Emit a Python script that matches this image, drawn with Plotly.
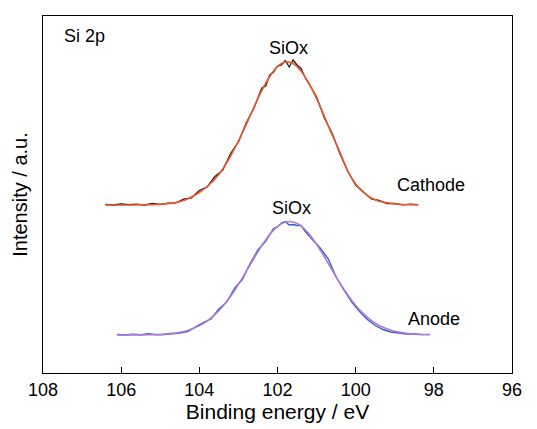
import plotly.graph_objects as go

# ---------------- data ----------------
# Cathode, measured (black) - binding energy / intensity (a.u.)
cath_x = [106.4, 106.2, 106.0, 105.8, 105.6, 105.4, 105.2, 105.0, 104.8, 104.6,
          104.4, 104.2, 104.0, 103.8, 103.6, 103.4, 103.2, 103.0, 102.8, 102.6,
          102.4, 102.3, 102.2, 102.1, 102.0, 101.9, 101.8, 101.7, 101.6, 101.5,
          101.4, 101.3, 101.2, 101.0, 100.8, 100.6, 100.4, 100.2, 100.0, 99.8,
          99.6, 99.4, 99.2, 99.0, 98.8, 98.6, 98.4]
cath_y = [168.5, 168.0, 169.0, 168.3, 168.8, 168.0, 169.5, 168.5, 169.8, 170.2,
          173.8, 175.2, 182.5, 186.0, 196.5, 203.0, 219.5, 231.0, 250.0, 265.0,
          285.0, 287.0, 298.0, 301.0, 307.0, 308.0, 312.5, 306.0, 313.0, 308.0,
          304.5, 296.0, 289.5, 276.0, 255.0, 239.5, 219.0, 201.5, 188.0, 180.5,
          174.0, 172.5, 169.5, 169.6, 168.2, 168.9, 168.3]

# Cathode, fitted envelope (orange)
cath_fit_x = [106.4, 106.2, 106.0, 105.8, 105.6, 105.4, 105.2, 105.0, 104.8, 104.6,
              104.4, 104.2, 104.0, 103.8, 103.6, 103.4, 103.2, 103.0, 102.8, 102.6,
              102.4, 102.2, 102.0, 101.8, 101.6, 101.4, 101.2, 101.0, 100.8, 100.6,
              100.4, 100.2, 100.0, 99.8, 99.6, 99.4, 99.2, 99.0, 98.8, 98.6, 98.4]
cath_fit_y = [168.0, 168.0, 168.0, 168.05, 168.1, 168.2, 168.4, 168.8, 169.4, 170.5,
              172.5, 176.0, 180.5, 186.5, 194.0, 204.0, 217.0, 232.0, 248.5, 266.0,
              282.5, 296.5, 306.5, 311.0, 309.5, 302.0, 290.0, 274.5, 256.5, 238.0,
              220.5, 202.0, 189.0, 180.5, 175.0, 171.8, 170.3, 169.1, 168.5, 168.2, 168.1]

# Anode, measured (blue)
anod_x = [106.1, 105.9, 105.7, 105.5, 105.3, 105.1, 104.9, 104.7, 104.5, 104.3,
          104.1, 103.9, 103.7, 103.5, 103.3, 103.1, 102.9, 102.7, 102.5, 102.3,
          102.1, 102.0, 101.9, 101.8, 101.7, 101.6, 101.5, 101.4, 101.3, 101.1,
          100.9, 100.7, 100.5, 100.3, 100.1, 99.9, 99.7, 99.5, 99.3, 99.1,
          98.9, 98.7, 98.5, 98.3, 98.1]
anod_y = [38.5, 38.0, 38.8, 38.2, 39.2, 38.3, 38.4, 39.0, 40.0, 41.5,
          46.2, 50.5, 54.0, 64.0, 71.0, 84.5, 93.5, 109.5, 123.0, 132.0,
          144.5, 146.0, 150.0, 151.5, 148.0, 148.5, 147.5, 147.8, 142.0, 133.0,
          124.5, 114.0, 96.0, 83.0, 71.0, 61.5, 53.5, 47.5, 43.5, 41.0,
          40.0, 39.0, 39.2, 38.4, 38.6]

# Anode, fitted envelope (purple)
anod_fit_x = [106.1, 105.9, 105.7, 105.5, 105.3, 105.1, 104.9, 104.7, 104.5, 104.3,
              104.1, 103.9, 103.7, 103.5, 103.3, 103.1, 102.9, 102.7, 102.5, 102.3,
              102.1, 101.9, 101.7, 101.5, 101.3, 101.1, 100.9, 100.7, 100.5, 100.3,
              100.1, 99.9, 99.7, 99.5, 99.3, 99.1, 98.9, 98.7, 98.5, 98.3, 98.1]
anod_fit_y = [38.0, 38.0, 38.1, 38.1, 38.2, 38.5, 38.9, 39.6, 40.8, 42.6,
              45.4, 49.4, 54.9, 62.2, 71.4, 82.5, 94.9, 108.2, 121.3, 133.2,
              142.9, 149.2, 151.5, 149.6, 143.6, 134.3, 122.6, 109.5, 96.2, 83.7,
              72.5, 63.1, 55.6, 49.8, 45.7, 42.8, 40.9, 39.7, 38.9, 38.5, 38.3]

x_ticks = [108, 106, 104, 102, 100, 98, 96]

labels = {
    "Si 2p": (107.52, 337),
    "SiOx top": (101.73, 325.5),
    "SiOx bottom": (101.63, 165.5),
    "Cathode": (98.07, 188),
    "Anode": (97.99, 54),
}

FONT = "Arial, Liberation Sans, Helvetica, sans-serif"

fig = go.Figure()
fig.add_trace(go.Scatter(x=cath_x, y=cath_y, mode="lines",
                         line=dict(color="#1c1c1c", width=1.3), showlegend=False))
fig.add_trace(go.Scatter(x=cath_fit_x, y=cath_fit_y, mode="lines",
                         line=dict(color="#F2552A", width=1.6, shape="spline"),
                         showlegend=False))
fig.add_trace(go.Scatter(x=anod_x, y=anod_y, mode="lines",
                         line=dict(color="#2F5EC4", width=1.4), showlegend=False))
fig.add_trace(go.Scatter(x=anod_fit_x, y=anod_fit_y, mode="lines",
                         line=dict(color="#B07AD6", width=1.6, shape="spline"),
                         showlegend=False))

ann_font = dict(family=FONT, size=18, color="black")
fig.add_annotation(x=labels["Si 2p"][0], y=labels["Si 2p"][1], text="Si 2p",
                   showarrow=False, xanchor="left", font=ann_font)
fig.add_annotation(x=labels["SiOx top"][0], y=labels["SiOx top"][1], text="SiOx",
                   showarrow=False, font=ann_font)
fig.add_annotation(x=labels["SiOx bottom"][0], y=labels["SiOx bottom"][1], text="SiOx",
                   showarrow=False, font=ann_font)
fig.add_annotation(x=labels["Cathode"][0], y=labels["Cathode"][1], text="Cathode",
                   showarrow=False, font=ann_font)
fig.add_annotation(x=labels["Anode"][0], y=labels["Anode"][1], text="Anode",
                   showarrow=False, font=ann_font)

# the page body adds an 8px offset, so the figure is 8px smaller and margins shifted
fig.update_layout(
    width=529, height=421,
    margin=dict(l=35, r=25, t=8, b=56),
    paper_bgcolor="white", plot_bgcolor="white",
    font=dict(family=FONT, color="black"),
    xaxis=dict(
        range=[108, 96], tickvals=x_ticks, ticktext=[str(v) for v in x_ticks],
        ticks="inside", ticklen=6, tickwidth=1.3, tickcolor="black",
        showline=True, linecolor="black", linewidth=1.4, mirror=True,
        showgrid=False, zeroline=False,
        tickfont=dict(family=FONT, size=18, color="black"),
        title=dict(text="Binding energy / eV", font=dict(family=FONT, size=21, color="black"),
                   standoff=4),
    ),
    yaxis=dict(
        range=[0, 357], showticklabels=False, ticks="",
        showline=True, linecolor="black", linewidth=1.4, mirror=True,
        showgrid=False, zeroline=False,
        title=dict(text="Intensity / a.u.", font=dict(family=FONT, size=20, color="black"),
                   standoff=8),
    ),
)

fig.write_html("out.html")
